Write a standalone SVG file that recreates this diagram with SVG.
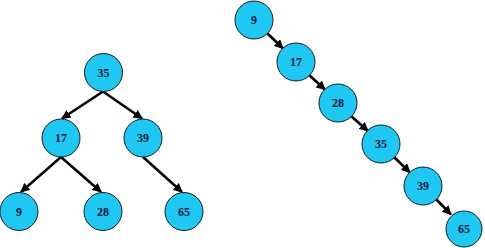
<svg xmlns="http://www.w3.org/2000/svg" width="485" height="248" viewBox="0 0 485 248">
<style>
.n circle{fill:#1ec8f2;stroke:#1a1a1a;stroke-width:1}
.n text{font-family:"Liberation Serif",serif;font-weight:bold;font-size:12px;fill:#10173a;text-anchor:middle;dominant-baseline:central}
.e line{stroke:#000;stroke-width:2.6;marker-end:url(#a)}
</style>
<defs>
<marker id="a" viewBox="0 0 10 10" refX="9" refY="5" markerWidth="3.6" markerHeight="3.6" orient="auto" markerUnits="strokeWidth">
<path d="M0,0 L10,5 L0,10 Z" fill="#000"/>
</marker>
</defs>
<rect width="485" height="248" fill="#fff"/>
<g id="connectors" class="e">
<line x1="103" y1="91.5" x2="62" y2="118.5"/>
<line x1="103" y1="91.5" x2="142" y2="118.5"/>
<line x1="61" y1="157" x2="21" y2="192"/>
<line x1="61" y1="157" x2="101" y2="192"/>
<line x1="143" y1="157" x2="182" y2="192"/>
<line x1="267" y1="33" x2="283" y2="48.5"/>
<line x1="309" y1="75" x2="325" y2="89.5"/>
<line x1="351" y1="116" x2="368" y2="131"/>
<line x1="394" y1="157" x2="410" y2="172.5"/>
<line x1="436" y1="199" x2="451" y2="214.5"/>
</g>
<g id="t35" class="n"><circle cx="103.5" cy="72.5" r="19"/><text x="103.5" y="72.5">35</text></g>
<g id="t17" class="n"><circle cx="61" cy="138" r="19"/><text x="61" y="138">17</text></g>
<g id="t39" class="n"><circle cx="143" cy="138" r="19"/><text x="143" y="138">39</text></g>
<g id="t9" class="n"><circle cx="19" cy="211.5" r="19"/><text x="19" y="211.5">9</text></g>
<g id="t28" class="n"><circle cx="103" cy="211.5" r="19"/><text x="103" y="211.5">28</text></g>
<g id="t65" class="n"><circle cx="184" cy="211.5" r="19"/><text x="184" y="211.5">65</text></g>
<g id="c9" class="n"><circle cx="254" cy="20" r="19"/><text x="254" y="20">9</text></g>
<g id="c17" class="n"><circle cx="296" cy="62" r="19"/><text x="296" y="62">17</text></g>
<g id="c28" class="n"><circle cx="338" cy="103" r="19"/><text x="338" y="103">28</text></g>
<g id="c35" class="n"><circle cx="381" cy="144" r="19"/><text x="381" y="144">35</text></g>
<g id="c39" class="n"><circle cx="423" cy="186" r="19"/><text x="423" y="186">39</text></g>
<g id="c65" class="n"><circle cx="464" cy="229" r="18"/><text x="464" y="229">65</text></g>
</svg>
